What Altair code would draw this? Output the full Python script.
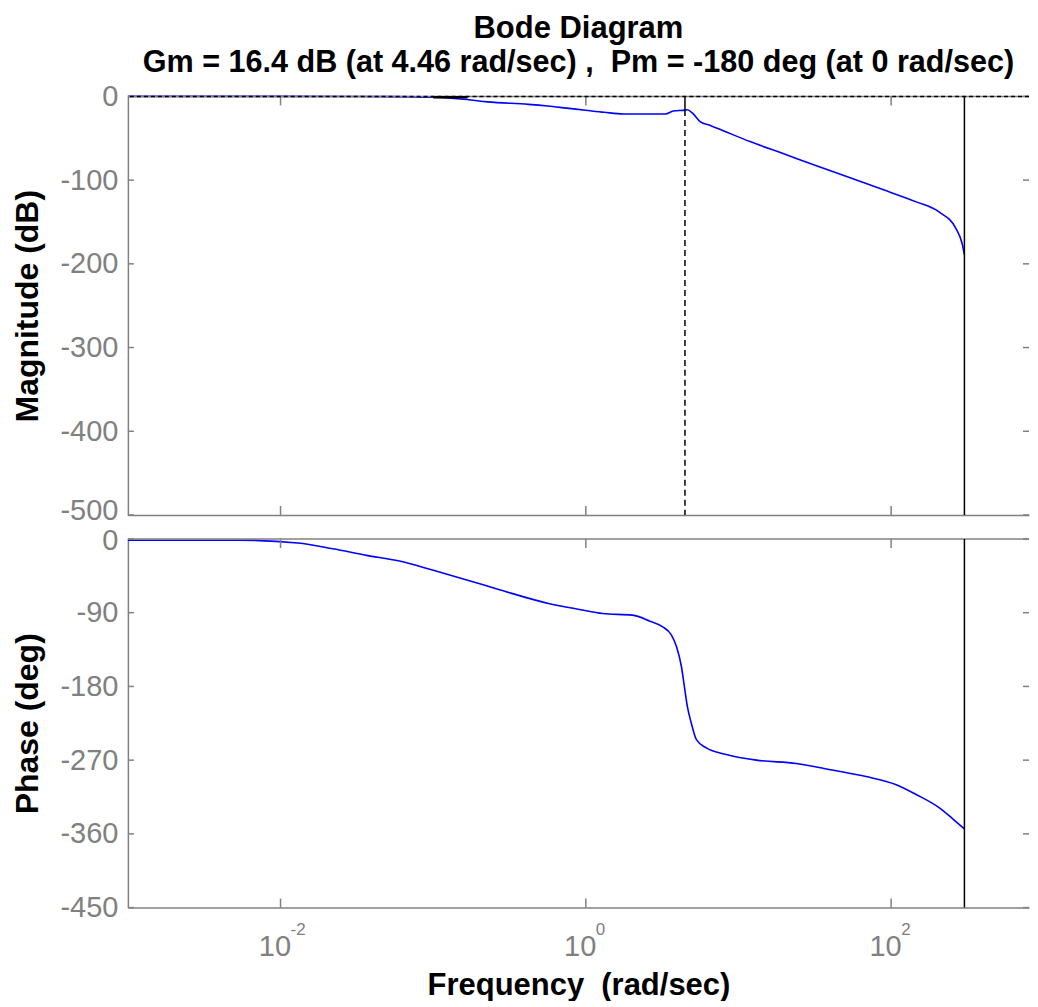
import altair as alt
import pandas as pd

# ---------------- data ----------------
mag_freq = [0.001, 0.01, 0.05, 0.1, 0.166, 0.227, 0.421, 0.561, 0.746, 0.993,
            1.32, 1.76, 3.32, 3.74, 4.46, 4.62, 5.0, 5.6, 6.6, 7.95, 11.9,
            19.4, 33.8, 55.6, 87.3, 146, 206, 266, 292, 302]
mag_db = [0, 0, -0.3, -1, -3.7, -6.5, -9.5, -11.5, -14, -16.5,
          -19, -21, -21, -17.5, -16.4, -16, -20, -30, -35, -41, -54,
          -68, -84, -98, -111, -126, -138, -158, -176, -189]

phase_freq = [0.001, 0.0054, 0.013, 0.022, 0.0366, 0.060, 0.099, 0.166, 0.272,
              0.578, 0.908, 1.29, 2.02, 2.61, 3.17, 3.63, 3.92, 4.23, 4.42,
              4.62, 4.91, 5.30, 6.15, 8.32, 13.1, 23.9, 41.1, 68.5, 108, 146,
              206, 251, 302]
phase_deg = [-1.5, -1.5, -5, -12, -20, -27, -38, -50, -62,
             -79, -86, -91, -93, -100, -107, -117, -131, -156, -180,
             -204, -225, -245, -255, -263, -270, -274, -282, -290, -300, -312,
             -328, -341, -354]

x_tick_vals = [0.01, 1, 100]
x_tick_exp = ["-2", "0", "2"]
mag_ticks = [0, -100, -200, -300, -400, -500]
phase_ticks = [0, -90, -180, -270, -360, -450]
x_domain = [0.001, 800]

gm_freq = 4.46
gm_db = -16.4
pm_freq = 302
marker_freq = [0.1, 0.168]
marker_db = [-1, -1]

title_text = "Bode Diagram"
subtitle_text = "Gm = 16.4 dB (at 4.46 rad/sec) ,\u00a0 Pm = -180 deg (at 0 rad/sec)"
mag_title = "Magnitude (dB)"
phase_title = "Phase (deg)"
freq_title = "Frequency \u00a0(rad/sec)"

# ---------------- layout / style ----------------
W = 902
H1 = 419
H2 = 369
FONT = "Liberation Sans"
GRAY = "#808080"
BLUE = "#0000ff"
TICK_X = 9
TICK_Y = 6

xscale = alt.Scale(type="log", domain=x_domain, nice=False)
mag_scale = alt.Scale(domain=[mag_ticks[-1], mag_ticks[0]], nice=False, zero=False)
ph_scale = alt.Scale(domain=[phase_ticks[-1], phase_ticks[0]], nice=False, zero=False)

mag_df = pd.DataFrame({"freq": mag_freq, "val": mag_db})
ph_df = pd.DataFrame({"freq": phase_freq, "val": phase_deg})
xt_df = pd.DataFrame({"freq": x_tick_vals, "exp": x_tick_exp})
one_df = pd.DataFrame({"k": [0]})


def build_panel(curve_df, yscale, yticks, ytitle, height, bottom, extra):
    if bottom:
        edge_offset = {"condition": {"test": f"datum.value == {yticks[0]}", "value": 2},
                       "value": 0}
    else:
        edge_offset = {"condition": {"test": f"datum.value == {yticks[-1]}", "value": -4},
                       "value": 0}
    y_axis = alt.Axis(values=yticks, title=ytitle, ticks=False, labelPadding=10,
                      labelExpr="toString(datum.value)", labelOffset=edge_offset,
                      labelFontSize=29, labelColor=GRAY, labelFont=FONT,
                      labelFlush=False, domainColor=GRAY, domainWidth=1.5,
                      titleFontSize=32, titleFont=FONT, titleFontWeight="bold",
                      titleColor="black", titleAngle=270, titleBaseline="middle",
                      titleX=-100, grid=False)
    if bottom:
        x_axis = alt.Axis(values=x_tick_vals, labelExpr="'10'", labelAlign="right",
                          labelOffset=10, labelPadding=25, labelFontSize=29,
                          labelColor=GRAY, labelFont=FONT, labelFlush=False,
                          ticks=False, domainColor=GRAY, domainWidth=1.5,
                          title=freq_title, titleFontSize=31, titleFont=FONT,
                          titleFontWeight="bold", titleColor="black",
                          titleBaseline="top", titleY=63, grid=False)
    else:
        x_axis = alt.Axis(values=x_tick_vals, labels=False, ticks=False,
                          domainColor=GRAY, domainWidth=1.5, title=None, grid=False)

    def X():
        return alt.X("freq:Q", scale=xscale, axis=x_axis)

    def Y(field):
        return alt.Y(field, scale=yscale, axis=y_axis)

    yt_df = pd.DataFrame({"val": yticks})
    layers = []
    layers.append(alt.Chart(curve_df).mark_line(color=BLUE, strokeWidth=1.6,
                                                interpolate="monotone").encode(
        x=X(), y=Y("val:Q")))
    layers.append(alt.Chart(one_df).mark_rule(color=GRAY, strokeWidth=1.5).encode(
        y=alt.value(0)))
    layers.append(alt.Chart(xt_df).mark_rule(color=GRAY, strokeWidth=1.5).encode(
        x=X(), y=alt.value(height - TICK_X), y2=alt.value(height)))
    layers.append(alt.Chart(xt_df).mark_rule(color=GRAY, strokeWidth=1.5).encode(
        x=X(), y=alt.value(0), y2=alt.value(TICK_X)))
    layers.append(alt.Chart(yt_df).mark_rule(color=GRAY, strokeWidth=1.5).encode(
        y=Y("val:Q"), x=alt.value(0), x2=alt.value(TICK_Y)))
    layers.append(alt.Chart(yt_df).mark_rule(color=GRAY, strokeWidth=1.5).encode(
        y=Y("val:Q"), x=alt.value(W - TICK_Y), x2=alt.value(W)))
    layers.append(alt.Chart(pd.DataFrame({"freq": [pm_freq]})).mark_rule(
        color="black", strokeWidth=1.5).encode(x=X()))
    layers.extend(extra(X, Y))
    return alt.layer(*layers).properties(width=W, height=height)


def mag_extra(X, Y):
    gm_df = pd.DataFrame({"freq": [gm_freq], "top": [mag_ticks[0]], "gm": [gm_db],
                          "bottom": [mag_ticks[-1]]})
    zero_line = alt.Chart(pd.DataFrame({"val": [mag_ticks[0]]})).mark_rule(
        color="black", strokeWidth=1.5, strokeDash=[4, 3]).encode(y=Y("val:Q"))
    gm_solid = alt.Chart(gm_df).mark_rule(color="black", strokeWidth=1.5).encode(
        x=X(), y=Y("top:Q"), y2="gm:Q")
    gm_dash = alt.Chart(gm_df).mark_rule(color="black", strokeWidth=1.5,
                                         strokeDash=[6, 4]).encode(
        x=X(), y=Y("gm:Q"), y2="bottom:Q")
    marker = alt.Chart(pd.DataFrame({"freq": marker_freq, "val": marker_db})).mark_line(
        color="black", strokeWidth=2.5).encode(x=X(), y=Y("val:Q"))
    return [zero_line, gm_solid, gm_dash, marker]


def ph_extra(X, Y):
    exps = alt.Chart(xt_df).mark_text(align="left", baseline="alphabetic", dx=10,
                                      fontSize=17, font=FONT, color=GRAY).encode(
        x=X(), y=alt.value(H2 + 27), text="exp:N")
    return [exps]


top = build_panel(mag_df, mag_scale, mag_ticks, mag_title, H1, False, mag_extra).properties(
    title=alt.TitleParams(text=title_text, subtitle=subtitle_text, fontSize=31,
                          subtitleFontSize=30.6, font=FONT, subtitleFont=FONT,
                          fontWeight="bold", subtitleFontWeight="bold",
                          color="black", subtitleColor="black", anchor="middle",
                          frame="group", offset=3, subtitlePadding=3))
bottom = build_panel(ph_df, ph_scale, phase_ticks, phase_title, H2, True, ph_extra)

chart = alt.vconcat(top, bottom, spacing=24, bounds="flush").properties(
    padding={"left": 4, "top": 4, "right": 0, "bottom": 0},
    background="white",
).configure_view(stroke=None).configure_axis(grid=False)

chart.save("out.html", embed_options={"renderer": "svg", "actions": False})
